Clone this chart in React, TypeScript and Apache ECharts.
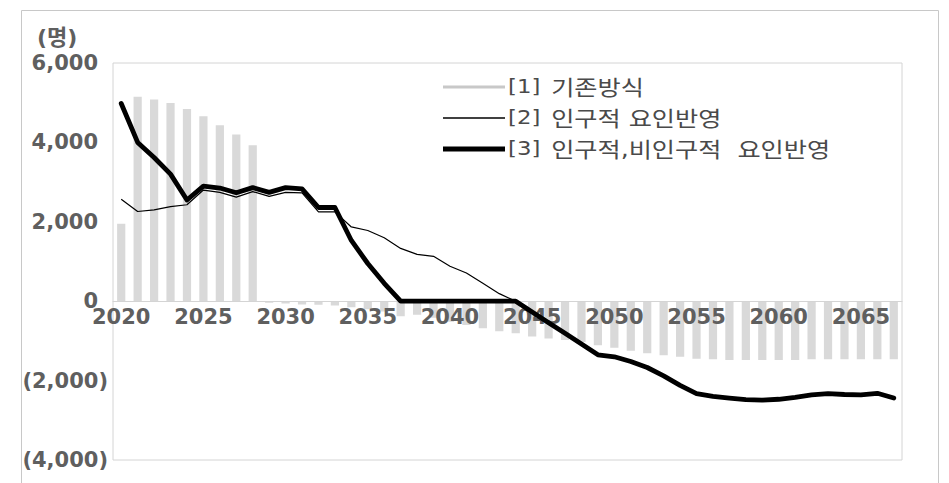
import React, { useEffect, useRef } from 'react';
import * as echarts from 'echarts';

const years = [
  '2020', '2021', '2022', '2023', '2024', '2025', '2026', '2027', '2028', '2029',
  '2030', '2031', '2032', '2033', '2034', '2035', '2036', '2037', '2038', '2039',
  '2040', '2041', '2042', '2043', '2044', '2045', '2046', '2047', '2048', '2049',
  '2050', '2051', '2052', '2053', '2054', '2055', '2056', '2057', '2058', '2059',
  '2060', '2061', '2062', '2063', '2064', '2065', '2066', '2067',
];

const seriesTags = ['[1]', '[2]', '[3]'];
const seriesLabels = ['기존방식', '인구적 요인반영', '인구적,비인구적  요인반영'];

const baseValues = [
  1950, 5150, 5080, 4990, 4840, 4660, 4430, 4200, 3930, -40,
  -60, -80, -90, -110, -150, -200, -260, -380, -340, -420,
  -520, -600, -680, -760, -810, -890, -940, -980, -1030, -1110,
  -1170, -1250, -1310, -1360, -1400, -1450, -1460, -1480, -1480, -1480,
  -1480, -1480, -1460, -1460, -1460, -1460, -1460, -1460,
];

const demographicValues = [
  2570, 2260, 2300, 2380, 2430, 2800, 2740, 2620, 2760, 2640,
  2740, 2730, 2250, 2250, 1870, 1780, 1600, 1330, 1180, 1130,
  880, 710, 450, 190, 0, -270, -540, -810, -1080, -1350,
  -1400, -1520, -1670, -1880, -2120, -2330, -2400, -2440, -2480, -2490,
  -2470, -2420, -2360, -2330, -2350, -2360, -2320, -2440,
];

const combinedValues = [
  4980, 4000, 3620, 3200, 2550, 2900, 2850, 2730, 2860, 2740,
  2860, 2830, 2360, 2360, 1530, 950, 450, 0, 0, 0,
  0, 0, 0, 0, 0, -270, -540, -810, -1080, -1350,
  -1400, -1520, -1670, -1880, -2120, -2330, -2400, -2440, -2480, -2490,
  -2470, -2420, -2360, -2330, -2350, -2360, -2320, -2440,
];

const unitLabel = '(명)';
const yMin = -4000;
const yMax = 6000;
const yStep = 2000;

const GRID_TOP = 63;
const GRID_BOTTOM = 23;
const CHART_H = 483;

export default function App() {
  const ref = useRef<HTMLDivElement>(null);
  useEffect(() => {
    if (!ref.current) return;
    const chart = echarts.init(ref.current, undefined, { renderer: 'svg' });
    const axisFont = "'DejaVu Sans', 'Noto Sans CJK KR', sans-serif";
    const labelColor = '#5f5f5f';
    const legendColor = '#4a4a4a';
    const seriesColors = ['#d9d9d9', '#000000', '#000000'];
    const legendIconColors = ['#c8c8c8', '#000000', '#000000'];
    const legendIconWidths = [3, 1.6, 5];
    const plotH = CHART_H - GRID_TOP - GRID_BOTTOM;
    // distance from bottom of grid to the value-axis zero line
    const zeroOffset = (plotH * (0 - yMin)) / (yMax - yMin);
    const numStyle = {
      fontFamily: axisFont,
      fontSize: 21,
      fontWeight: 'bold' as const,
      color: labelColor,
    };
    const names = seriesTags.map((t, i) => `${t} ${seriesLabels[i]}`);

    const legendX = 443;
    const legendY0 = 87;
    const legendStep = 31;
    const legendItems = names.flatMap((_, i) => {
      const cy = legendY0 + i * legendStep;
      const t = legendIconWidths[i];
      return [
        {
          type: 'rect',
          silent: true,
          shape: { x: legendX, y: cy - t / 2, width: 62, height: t },
          style: { fill: legendIconColors[i] },
        },
        {
          type: 'group',
          x: legendX + 65,
          y: cy,
          scaleX: 1.2,
          children: [
            {
              type: 'text',
              x: 0,
              y: 0,
              style: {
                text: `{b|${seriesTags[i]} }{k|${seriesLabels[i]}}`,
                verticalAlign: 'middle',
                rich: {
                  b: { fontFamily: axisFont, fontSize: 19, fill: legendColor, lineHeight: 22, padding: [0, 3, 0, 0] },
                  k: { fontFamily: axisFont, fontSize: 21, fill: legendColor, lineHeight: 22 },
                },
              },
            },
          ],
        },
      ];
    });

    chart.setOption({
      animation: false,
      backgroundColor: '#ffffff',
      grid: {
        left: 113,
        right: 47,
        top: GRID_TOP,
        bottom: GRID_BOTTOM,
        show: true,
        borderColor: '#d4d4d4',
        borderWidth: 1,
        backgroundColor: 'transparent',
      },
      legend: { show: false },
      xAxis: {
        type: 'category',
        data: years,
        boundaryGap: true,
        offset: -zeroOffset,
        z: 6,
        axisLine: { show: true, onZero: false, lineStyle: { color: '#d4d4d4', width: 1 } },
        axisTick: { show: false },
        axisLabel: {
          interval: 4,
          margin: 7,
          lineHeight: 18,
          ...numStyle,
        },
        splitLine: { show: false },
      },
      yAxis: {
        type: 'value',
        min: yMin,
        max: yMax,
        interval: yStep,
        axisLine: { show: false },
        axisTick: { show: false },
        splitLine: { show: false },
        axisLabel: {
          margin: 5,
          ...numStyle,
          formatter: (v: number) => {
            const s = Math.abs(v).toLocaleString('en-US');
            return v < 0 ? `{n|(${s})}` : `{p|${s}}`;
          },
          rich: {
            n: { ...numStyle, lineHeight: 18 },
            p: { ...numStyle, lineHeight: 18, padding: [0, 10, 0, 0] },
          },
        },
      },
      graphic: [
        {
          type: 'rect',
          silent: true,
          z: -10,
          shape: { x: 21.5, y: 10.5, width: 917, height: 490 },
          style: { fill: 'none', stroke: '#c8c8c8', lineWidth: 1 },
        },
        {
          type: 'text',
          x: 37,
          y: 37,
          style: {
            text: unitLabel,
            fontFamily: axisFont,
            fontSize: 22,
            fontWeight: 'bold',
            fill: labelColor,
            verticalAlign: 'middle',
          },
        },
        ...legendItems,
      ],
      series: [
        {
          name: names[0],
          type: 'bar',
          data: baseValues,
          barWidth: '50%',
          itemStyle: { color: seriesColors[0] },
          z: 1,
        },
        {
          name: names[1],
          type: 'line',
          data: demographicValues,
          symbol: 'none',
          lineStyle: { color: seriesColors[1], width: 1.2 },
          itemStyle: { color: seriesColors[1] },
          z: 8,
        },
        {
          name: names[2],
          type: 'line',
          data: combinedValues,
          symbol: 'none',
          lineStyle: { color: seriesColors[2], width: 4.8, join: 'round', cap: 'round' },
          itemStyle: { color: seriesColors[2] },
          z: 9,
        },
      ],
    });
    return () => chart.dispose();
  }, []);
  return (
    <div
      ref={ref}
      style={{ position: 'fixed', left: 0, top: 0, width: 949, height: 483 }}
    />
  );
}
